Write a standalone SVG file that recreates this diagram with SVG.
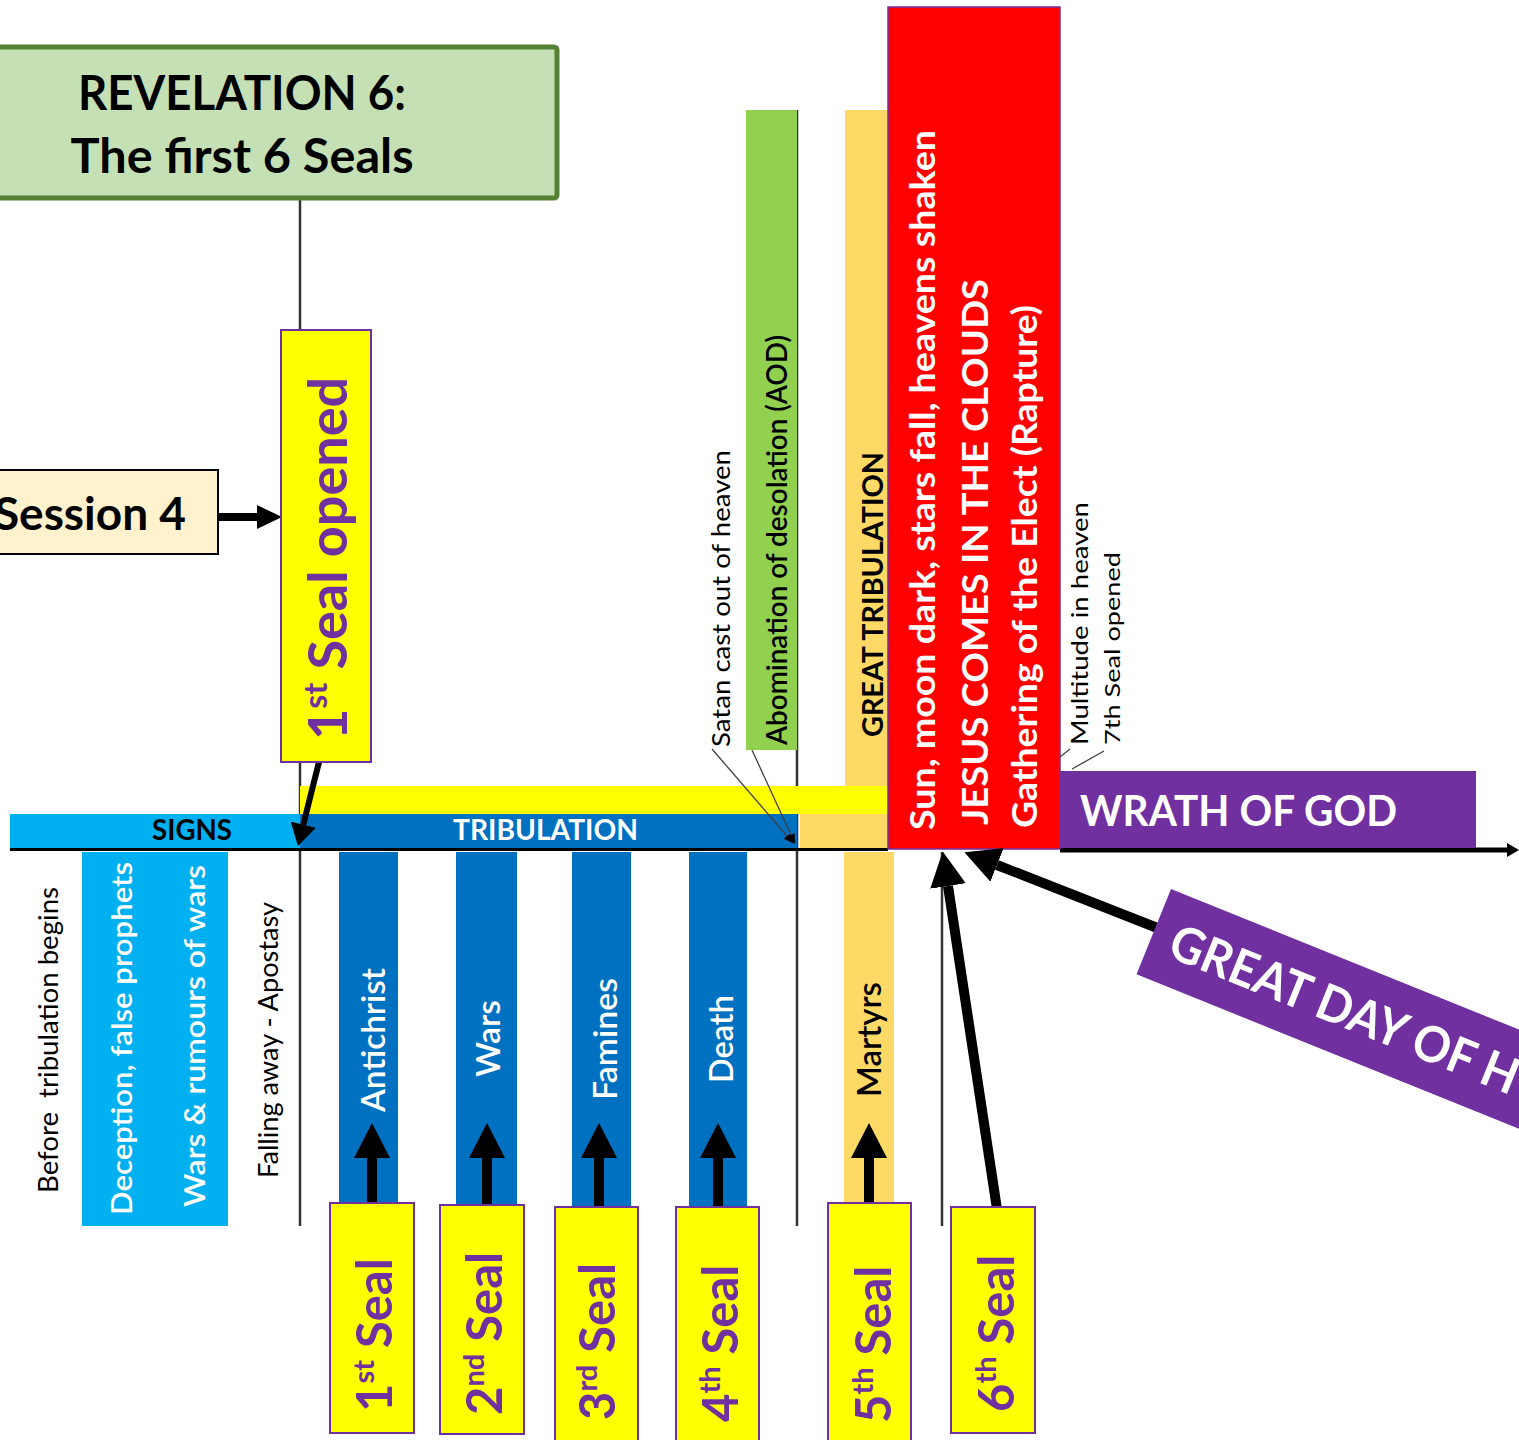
<svg xmlns="http://www.w3.org/2000/svg" width="1519" height="1440" viewBox="0 0 1519 1440">
<style>
.b{font-family:Lato,"Open Sans","Liberation Sans",sans-serif;font-weight:700}
.s{font-family:Lato,"Open Sans","Liberation Sans",sans-serif;font-weight:600}
.r{font-family:Lato,"Open Sans","Liberation Sans",sans-serif;font-weight:400}
.w{fill:#FFFFFF}.k{fill:#000000}.p{fill:#7030A0}
.div{stroke:#333333;stroke-width:2.5;fill:none}
.seal{fill:#FFFF00;stroke:#7030A0;stroke-width:2}
.thick{stroke:#000000;stroke-width:10;fill:none}
.lead{stroke:#404040;stroke-width:1.3;fill:none}
</style>
<defs>
<marker id="hL" markerUnits="userSpaceOnUse" viewBox="0 0 35 36" refX="0" refY="18" markerWidth="35" markerHeight="36" orient="auto"><path d="M0,0 L35,18 L0,36 Z" fill="#000"/></marker>
<marker id="hM" markerUnits="userSpaceOnUse" viewBox="0 0 25 24" refX="0" refY="12" markerWidth="25" markerHeight="24" orient="auto"><path d="M0,0 L25,12 L0,24 Z" fill="#000"/></marker>
<marker id="hS" markerUnits="userSpaceOnUse" viewBox="0 0 22 26" refX="0" refY="13" markerWidth="22" markerHeight="26" orient="auto"><path d="M0,0 L22,13 L0,26 Z" fill="#000"/></marker>
<marker id="hT" markerUnits="userSpaceOnUse" viewBox="0 0 10 8" refX="0" refY="4" markerWidth="10" markerHeight="8" orient="auto"><path d="M0,0 L10,4 L0,8 Z" fill="#000"/></marker>
<marker id="hA" markerUnits="userSpaceOnUse" viewBox="0 0 12 14" refX="0" refY="7" markerWidth="12" markerHeight="14" orient="auto"><path d="M0,0 L12,7 L0,14 Z" fill="#000"/></marker>
</defs>
<rect width="1519" height="1440" fill="#FFFFFF"/>

<!-- divider lines -->
<g id="dividers">
<line class="div" x1="300" y1="198" x2="300" y2="1226"/>
<line class="div" x1="797" y1="110" x2="797" y2="1226"/>
<line class="div" x1="942" y1="852" x2="942" y2="1226"/>
</g>

<!-- top columns -->
<g id="aod">
<rect x="746" y="110" width="51" height="640" fill="#92D050"/>
<text class="s k" font-size="29" transform="translate(787,745) rotate(-90)" textLength="410" lengthAdjust="spacingAndGlyphs">Abomination of desolation (AOD)</text>
</g>
<g id="great-tribulation">
<rect x="845" y="110" width="43" height="676" fill="#FFD966"/>
<rect x="800" y="814" width="88" height="35" fill="#FFD966"/>
<text class="b k" font-size="29" transform="translate(883,737) rotate(-90)" textLength="285" lengthAdjust="spacingAndGlyphs">GREAT TRIBULATION</text>
</g>
<g id="satan">
<text class="r k" font-size="25" transform="translate(730,747) rotate(-90)" textLength="297" lengthAdjust="spacingAndGlyphs">Satan cast out of heaven</text>
</g>

<!-- band -->
<g id="band">
<rect x="300" y="786" width="588" height="28" fill="#FFFF00"/>
<rect x="10" y="814" width="290" height="35" fill="#00B0F0"/>
<rect x="300" y="814" width="497" height="35" fill="#0070C0"/>
<text class="b k" font-size="29" x="152" y="840" textLength="80" lengthAdjust="spacingAndGlyphs">SIGNS</text>
<text class="b w" font-size="29" x="453" y="840" textLength="185" lengthAdjust="spacingAndGlyphs">TRIBULATION</text>
</g>

<!-- below-axis columns -->
<g id="before">
<text class="r k" font-size="26" transform="translate(58,1193) rotate(-90)" textLength="306" lengthAdjust="spacingAndGlyphs" xml:space="preserve">Before  tribulation begins</text>
</g>
<g id="signs-col">
<rect x="82" y="852" width="146" height="374" fill="#00B0F0"/>
<text class="s w" font-size="28" transform="translate(132,1215) rotate(-90)" textLength="353" lengthAdjust="spacingAndGlyphs">Deception, false prophets</text>
<text class="s w" font-size="28" transform="translate(205,1207) rotate(-90)" textLength="342" lengthAdjust="spacingAndGlyphs">Wars &amp; rumours of wars</text>
</g>
<g id="falling">
<text class="r k" font-size="26" transform="translate(278,1178) rotate(-90)" textLength="276" lengthAdjust="spacingAndGlyphs">Falling away - Apostasy</text>
</g>
<g id="antichrist">
<rect x="339" y="852" width="59" height="352" fill="#0070C0"/>
<text class="s w" font-size="33" transform="translate(385,1112) rotate(-90)" textLength="144" lengthAdjust="spacingAndGlyphs">Antichrist</text>
</g>
<g id="wars">
<rect x="456" y="852" width="61" height="354" fill="#0070C0"/>
<text class="s w" font-size="33" transform="translate(500,1077) rotate(-90)" textLength="77" lengthAdjust="spacingAndGlyphs">Wars</text>
</g>
<g id="famines">
<rect x="572" y="852" width="59" height="356" fill="#0070C0"/>
<text class="s w" font-size="33" transform="translate(617,1100) rotate(-90)" textLength="122" lengthAdjust="spacingAndGlyphs">Famines</text>
</g>
<g id="death">
<rect x="689" y="852" width="58" height="356" fill="#0070C0"/>
<text class="s w" font-size="33" transform="translate(733,1083) rotate(-90)" textLength="88" lengthAdjust="spacingAndGlyphs">Death</text>
</g>
<g id="martyrs">
<rect x="844" y="852" width="50" height="352" fill="#FFD966"/>
<text class="s k" font-size="33" transform="translate(881,1097) rotate(-90)" textLength="115" lengthAdjust="spacingAndGlyphs">Martyrs</text>
</g>

<!-- axis -->
<g id="axis">
<line x1="10" y1="849.5" x2="888" y2="849.5" stroke="#000" stroke-width="3"/>
<line x1="1060" y1="850" x2="1507" y2="850" stroke="#000" stroke-width="5" marker-end="url(#hA)"/>
</g>

<!-- red box -->
<g id="jesus">
<rect x="888" y="7" width="172" height="842" fill="#FF0000" stroke="#7030A0" stroke-width="1.5"/>
<text class="b w" font-size="35" transform="translate(935,830) rotate(-90)" textLength="700" lengthAdjust="spacingAndGlyphs">Sun, moon dark, stars fall, heavens shaken</text>
<text class="b w" font-size="36" transform="translate(988,825) rotate(-90)" textLength="546" lengthAdjust="spacingAndGlyphs">JESUS COMES IN THE CLOUDS</text>
<text class="b w" font-size="34" transform="translate(1037,828) rotate(-90)" textLength="523" lengthAdjust="spacingAndGlyphs">Gathering of the Elect (Rapture)</text>
</g>

<g id="wrath">
<rect x="1060" y="771" width="416" height="77" fill="#7030A0"/>
<text class="b w" font-size="42" x="1080" y="826" textLength="317" lengthAdjust="spacingAndGlyphs">WRATH OF GOD</text>
</g>

<g id="multitude">
<text class="r k" font-size="23" transform="translate(1088,745) rotate(-90)" textLength="243" lengthAdjust="spacingAndGlyphs">Multitude in heaven</text>
</g>
<g id="seventh">
<text class="r k" font-size="22" transform="translate(1120,745) rotate(-90)" textLength="193" lengthAdjust="spacingAndGlyphs">7th Seal opened</text>
</g>

<!-- title -->
<g id="title">
<rect x="-10" y="47" width="567" height="151" rx="3" fill="#C5E0B4" stroke="#548235" stroke-width="5"/>
<text class="b k" font-size="47" x="242" y="110" text-anchor="middle" textLength="328" lengthAdjust="spacingAndGlyphs">REVELATION 6:</text>
<text class="b k" font-size="47" x="242" y="173" text-anchor="middle" textLength="343" lengthAdjust="spacingAndGlyphs">The first 6 Seals</text>
</g>

<g id="session">
<rect x="-10" y="470" width="228" height="84" fill="#FFF2CC" stroke="#000" stroke-width="2"/>
<text class="b k" font-size="46" x="186" y="530" text-anchor="end">Session 4</text>
</g>

<!-- connectors -->
<g id="connectors">
<line x1="218" y1="517" x2="257" y2="517" stroke="#000" stroke-width="8" marker-end="url(#hM)"/>
<line x1="319" y1="762" x2="303.3" y2="824.7" stroke="#000" stroke-width="6" marker-end="url(#hS)"/>
<line class="lead" x1="712" y1="749" x2="787" y2="836" marker-end="url(#hT)"/>
<line class="lead" x1="752" y1="750" x2="791" y2="835" marker-end="url(#hT)"/>
<line class="lead" x1="1070" y1="749" x2="1060" y2="757"/>
<line class="lead" x1="1104" y1="751" x2="1072" y2="769"/>
<line class="thick" x1="372" y1="1205" x2="372" y2="1158" marker-end="url(#hL)"/>
<line class="thick" x1="487" y1="1207" x2="487" y2="1158" marker-end="url(#hL)"/>
<line class="thick" x1="599" y1="1221" x2="599" y2="1158" marker-end="url(#hL)"/>
<line class="thick" x1="718" y1="1221" x2="718" y2="1158" marker-end="url(#hL)"/>
<line class="thick" x1="869" y1="1205" x2="869" y2="1158" marker-end="url(#hL)"/>
<line class="thick" x1="997" y1="1209" x2="948" y2="886" marker-end="url(#hL)"/>
<line class="thick" x1="1165" y1="931" x2="997" y2="865" marker-end="url(#hL)"/>
</g>

<g id="great-day">
<g transform="translate(1171,889) rotate(22)">
<rect x="0" y="0" width="560" height="92" fill="#7030A0"/>
<text class="b w" font-size="50" x="20" y="64" textLength="372" lengthAdjust="spacingAndGlyphs">GREAT DAY OF H</text>
</g>
</g>

<!-- seal boxes -->
<g id="seal-opened">
<rect class="seal" x="281" y="330" width="90" height="432"/>
<text class="b p" font-size="54" transform="translate(347,740) rotate(-90)">1<tspan font-size="32" dy="-20">st</tspan><tspan dy="20"> Seal opened</tspan></text>
</g>
<g id="seal1">
<rect class="seal" x="330" y="1203" width="84" height="230"/>
<text class="b p" font-size="49" transform="translate(392,1412) rotate(-90)">1<tspan font-size="29" dy="-18">st</tspan><tspan dy="18"> Seal</tspan></text>
</g>
<g id="seal2">
<rect class="seal" x="440" y="1205" width="84" height="229"/>
<text class="b p" font-size="49" transform="translate(502,1415) rotate(-90)">2<tspan font-size="29" dy="-18">nd</tspan><tspan dy="18"> Seal</tspan></text>
</g>
<g id="seal3">
<rect class="seal" x="555" y="1207" width="83" height="240"/>
<text class="b p" font-size="49" transform="translate(615,1420) rotate(-90)">3<tspan font-size="29" dy="-18">rd</tspan><tspan dy="18"> Seal</tspan></text>
</g>
<g id="seal4">
<rect class="seal" x="676" y="1207" width="83" height="240"/>
<text class="b p" font-size="49" transform="translate(738,1422) rotate(-90)">4<tspan font-size="29" dy="-18">th</tspan><tspan dy="18"> Seal</tspan></text>
</g>
<g id="seal5">
<rect class="seal" x="828" y="1203" width="83" height="245"/>
<text class="b p" font-size="49" transform="translate(891,1423) rotate(-90)">5<tspan font-size="29" dy="-18">th</tspan><tspan dy="18"> Seal</tspan></text>
</g>
<g id="seal6">
<rect class="seal" x="951" y="1207" width="84" height="226"/>
<text class="b p" font-size="49" transform="translate(1014,1412) rotate(-90)">6<tspan font-size="29" dy="-18">th</tspan><tspan dy="18"> Seal</tspan></text>
</g>
</svg>
